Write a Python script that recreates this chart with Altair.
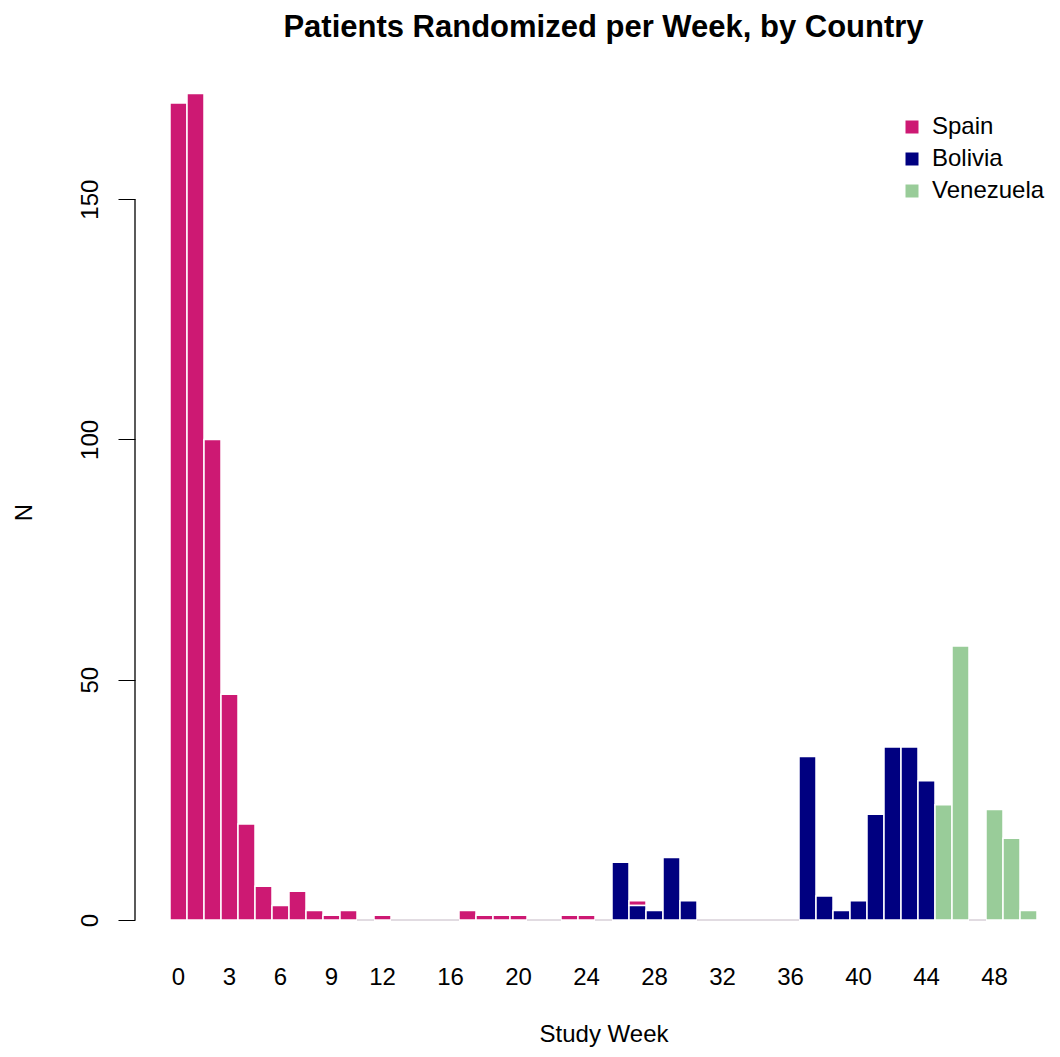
import altair as alt
import pandas as pd

weeks = list(range(51))
spain = [170, 172, 100, 47, 20, 7, 3, 6, 2, 1, 2, 0, 1, 0, 0, 0, 0, 2, 1, 1, 1, 0, 0, 1, 1, 0,
         0, 1, 0, 0, 0, 0, 0, 0, 0, 0, 0, 0, 0, 0, 0, 0, 0, 0, 0, 0, 0, 0, 0, 0, 0]
bolivia = [0] * 26 + [12, 3, 2, 13, 4] + [0] * 6 + [34, 5, 2, 4, 22, 36, 36, 29] + [0] * 6
venezuela = [0] * 45 + [24, 57, 0, 23, 17, 2]
countries = ["Spain", "Bolivia", "Venezuela"]
colors = ["#CD1973", "#000080", "#99CC99"]
stack_rank = {"Bolivia": 0, "Spain": 1, "Venezuela": 2}
tick_weeks = [0, 3, 6, 9, 12, 16, 20, 24, 28, 32, 36, 40, 44, 48]
y_ticks = [0, 50, 100, 150]

rows = []
for i, w in enumerate(weeks):
    for c, vals in zip(countries, [spain, bolivia, venezuela]):
        if vals[i] > 0:
            rows.append({"week": w, "country": c, "n": vals[i], "rank": stack_rank[c]})
df = pd.DataFrame(rows)
tot = pd.DataFrame({"week": weeks,
                    "total": [a + b + c for a, b, c in zip(spain, bolivia, venezuela)]})
zero = tot[tot["total"] == 0]
axis_df = pd.DataFrame({"y": [y_ticks[0]], "y2": [y_ticks[-1]]})

FONT = "Liberation Sans"
xscale = alt.Scale(domain=weeks, paddingInner=0, paddingOuter=0)
yscale = alt.Scale(domain=[0, 180], nice=False)

x_axis = alt.Axis(values=tick_weeks, labelAngle=0, domain=False, ticks=False,
                  grid=False, labelPadding=45, labelFontSize=24, labelColor="black",
                  title="Study Week", titleFontSize=24, titleFontWeight="normal",
                  titleColor="black", titlePadding=33)
y_axis = alt.Axis(values=y_ticks, offset=35, domain=False, tickSize=17,
                  tickColor="black", grid=False, labelAngle=-90,
                  labelAlign="center", labelBaseline="alphabetic",
                  labelPadding=21, labelFontSize=24, labelColor="black",
                  title="N", titleFontSize=24, titleFontWeight="normal",
                  titleColor="black", titlePadding=42, titleY=457)

bars = alt.Chart(df).mark_bar(stroke="white", strokeWidth=1.5).encode(
    x=alt.X("week:O", scale=xscale, axis=x_axis),
    y=alt.Y("n:Q", stack="zero", scale=yscale, axis=y_axis),
    color=alt.Color("country:N", scale=alt.Scale(domain=countries, range=colors),
                    legend=alt.Legend(title=None, orient="none", legendX=730, legendY=60,
                                      symbolType="square", symbolSize=169,
                                      symbolStrokeWidth=0, labelFontSize=24,
                                      labelColor="black", rowPadding=8, labelOffset=8,
                                      padding=0)),
    order=alt.Order("rank:Q"),
)

zero_layer = alt.Chart(zero).mark_bar(fill="white", stroke="#D8D0D8", strokeWidth=1).encode(
    x=alt.X("week:O", scale=xscale, axis=x_axis),
    y=alt.Y("total:Q", scale=yscale, axis=y_axis),
)

axis_line = alt.Chart(axis_df).mark_rule(color="black", strokeWidth=1.3).encode(
    x=alt.value(-35),
    y=alt.Y("y:Q", scale=yscale, axis=y_axis),
    y2="y2:Q",
)

chart = alt.layer(bars, zero_layer, axis_line).properties(
    width=867,
    height=865,
    title=alt.TitleParams("Patients Randomized per Week, by Country", fontSize=31,
                          fontWeight="bold", anchor="middle", color="black", offset=11),
    autosize=alt.AutoSizeParams(type="none"),
    padding={"left": 162, "top": 47, "right": 15, "bottom": 127},
).configure(font=FONT).configure_view(stroke=None)

chart.save("out.html", embed_options={"renderer": "svg", "actions": False})
